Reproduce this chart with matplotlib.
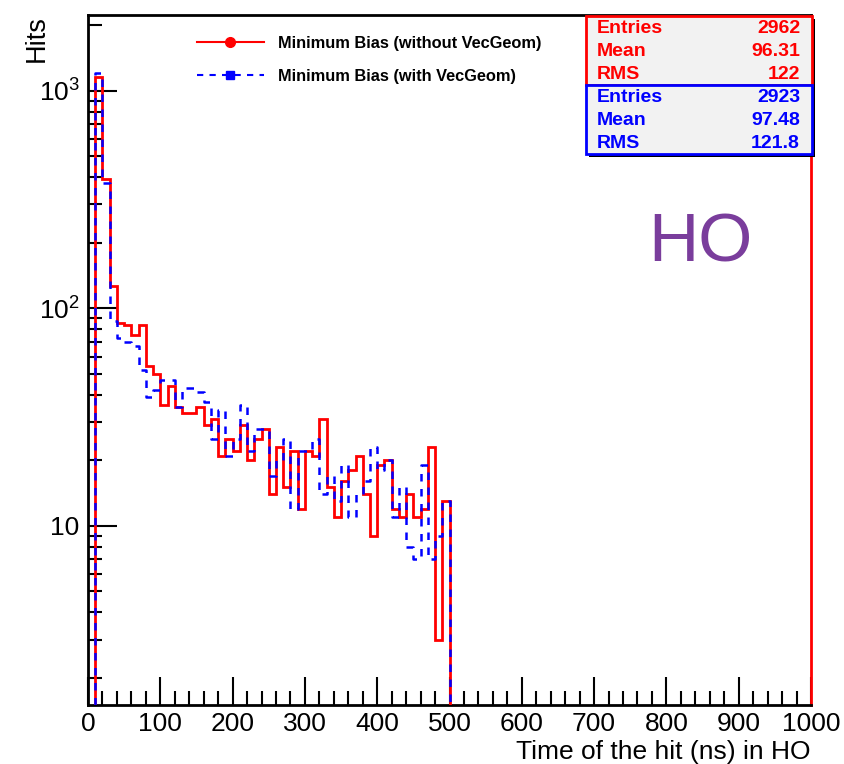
import numpy as np
import matplotlib
matplotlib.use("Agg")
import matplotlib.pyplot as plt
from matplotlib.lines import Line2D
from matplotlib.patches import Rectangle

plt.rcParams['font.family'] = ['Liberation Sans', 'DejaVu Sans']

# ---- data -------------------------------------------------------------
bin_width = 10
first_bin = 10          # first filled bin starts at 10 ns
x_range = (0, 1000)
# counts per 10 ns bin, from 10 ns to 500 ns
red_counts = [1160, 395, 126, 86, 84, 75, 84, 54, 50, 36,
              44, 35, 33, 33, 35, 29, 31, 21, 25, 22,
              29, 20, 25, 28, 14, 23, 15, 22, 12, 22,
              21, 31, 15, 11, 16, 18, 21, 14, 9, 19,
              20, 12, 11, 14, 11, 12, 23, 3, 13]
blue_counts = [1207, 377, 87, 73, 70, 67, 52, 39, 42, 47,
               47, 35, 43, 43, 41, 37, 25, 34, 21, 25,
               36, 22, 28, 28, 17, 20, 25, 12, 22, 22,
               25, 14, 17, 13, 19, 11, 14, 16, 23, 18,
               20, 11, 15, 8, 7, 19, 7, 9, 13]
red_label = "Minimum Bias (without VecGeom)"
blue_label = "Minimum Bias (with VecGeom)"
red_stats = [("Entries", "2962"), ("Mean", "96.31"), ("RMS", "122")]
blue_stats = [("Entries", "2923"), ("Mean", "97.48"), ("RMS", "121.8")]
xlabel = "Time of the hit (ns) in HO"
ylabel = "Hits"
tag = "HO"

# ---- build full histograms ---------------------------------------------
edges = np.arange(x_range[0], x_range[1] + bin_width, bin_width)
nb = len(edges) - 1
i0 = (first_bin - x_range[0]) // bin_width
red = np.zeros(nb)
blue = np.zeros(nb)
red[i0:i0 + len(red_counts)] = red_counts
blue[i0:i0 + len(blue_counts)] = blue_counts

W, H = 844, 764
fig = plt.figure(figsize=(W / 100, H / 100), dpi=100)
L, R, B, T = 88, 811, 705, 15
ax = fig.add_axes([L / W, 1 - B / H, (R - L) / W, (B - T) / H])
ax.set_yscale('log', nonpositive='clip')

def steps(v):
    return np.append(v, v[-1])

ax.plot(edges, steps(red), drawstyle='steps-post', color='#ff0000', lw=2.0,
        zorder=3, solid_joinstyle='miter')
ax.plot(edges, steps(blue), drawstyle='steps-post', color='#0000ff', lw=1.8,
        ls=(0, (3, 3)), zorder=4)

ax.set_xlim(*x_range)
ax.set_ylim(1.5, 2230)

# ticks ROOT style
ax.set_xticks(np.arange(0, 1001, 100))
ax.set_xticks(np.arange(0, 1001, 20), minor=True)
ax.set_yticks([10, 100, 1000])
ax.set_yticklabels(["10", r"$\mathregular{10^{2}}$", r"$\mathregular{10^{3}}$"])
ax.tick_params(axis='both', which='major', direction='in', length=21, width=1.5,
               labelsize=19, top=False, right=False, pad=6)
ax.tick_params(axis='x', which='major', pad=5)
ax.tick_params(axis='both', which='minor', direction='in', length=10, width=1.5,
               top=False, right=False)
ax.tick_params(axis='x', which='major', length=20)
for s in ax.spines.values():
    s.set_linewidth(2)
ax.spines['right'].set_color('#ff0000')

ax.set_xlabel(xlabel, fontsize=19, ha='right', va='top')
ax.xaxis.set_label_coords(1.0, -(740 - B) / (B - T))
ax.set_ylabel(ylabel, fontsize=19.5, ha='right', va='bottom')
ax.yaxis.set_label_coords(-(88 - 50) / (R - L), 1.0)

# legend
handles = [Line2D([], [], color='#ff0000', lw=1.5, marker='o', markersize=7),
           Line2D([], [], color='#0000ff', lw=1.5, ls=(0, (3, 3)), marker='s',
                  markersize=6)]
leg = ax.legend(handles, [red_label, blue_label], loc='upper left',
                bbox_to_anchor=((190 - L) / (R - L), 1 - (29 - T) / (B - T)),
                frameon=False, prop={'weight': 'bold', 'size': 11.8},
                handlelength=4.1, handletextpad=0.9, labelspacing=1.12,
                borderaxespad=0)

# big tag
fig.text(700 / W, 1 - 243 / H, tag, color='#7a3d9c', fontsize=50,
         ha='center', va='center')

# stats boxes
def stat_box(y0, y1, color, rows):
    fig.patches.append(Rectangle((589 / W, 1 - (y1 + 3) / H), (815 - 589) / W,
                                 (y1 - y0) / H, transform=fig.transFigure,
                                 facecolor='black', edgecolor='none', zorder=5))
    fig.patches.append(Rectangle((586 / W, 1 - y1 / H), (812 - 586) / W,
                                 (y1 - y0) / H, transform=fig.transFigure,
                                 facecolor='#f2f2f2', edgecolor=color, lw=2,
                                 zorder=6))
    n = len(rows)
    h = (y1 - y0) / n
    for k, (name, val) in enumerate(rows):
        yc = y0 + h * (k + 0.5) + 1
        fig.text(597 / W, 1 - yc / H, name, color=color, fontsize=14,
                 weight='bold', ha='left', va='center', zorder=7)
        fig.text(800 / W, 1 - yc / H, val, color=color, fontsize=14,
                 weight='bold', ha='right', va='center', zorder=7)

stat_box(16, 85, '#ff0000', red_stats)
stat_box(85, 154, '#0000ff', blue_stats)

fig.savefig("out.png", dpi=100)
